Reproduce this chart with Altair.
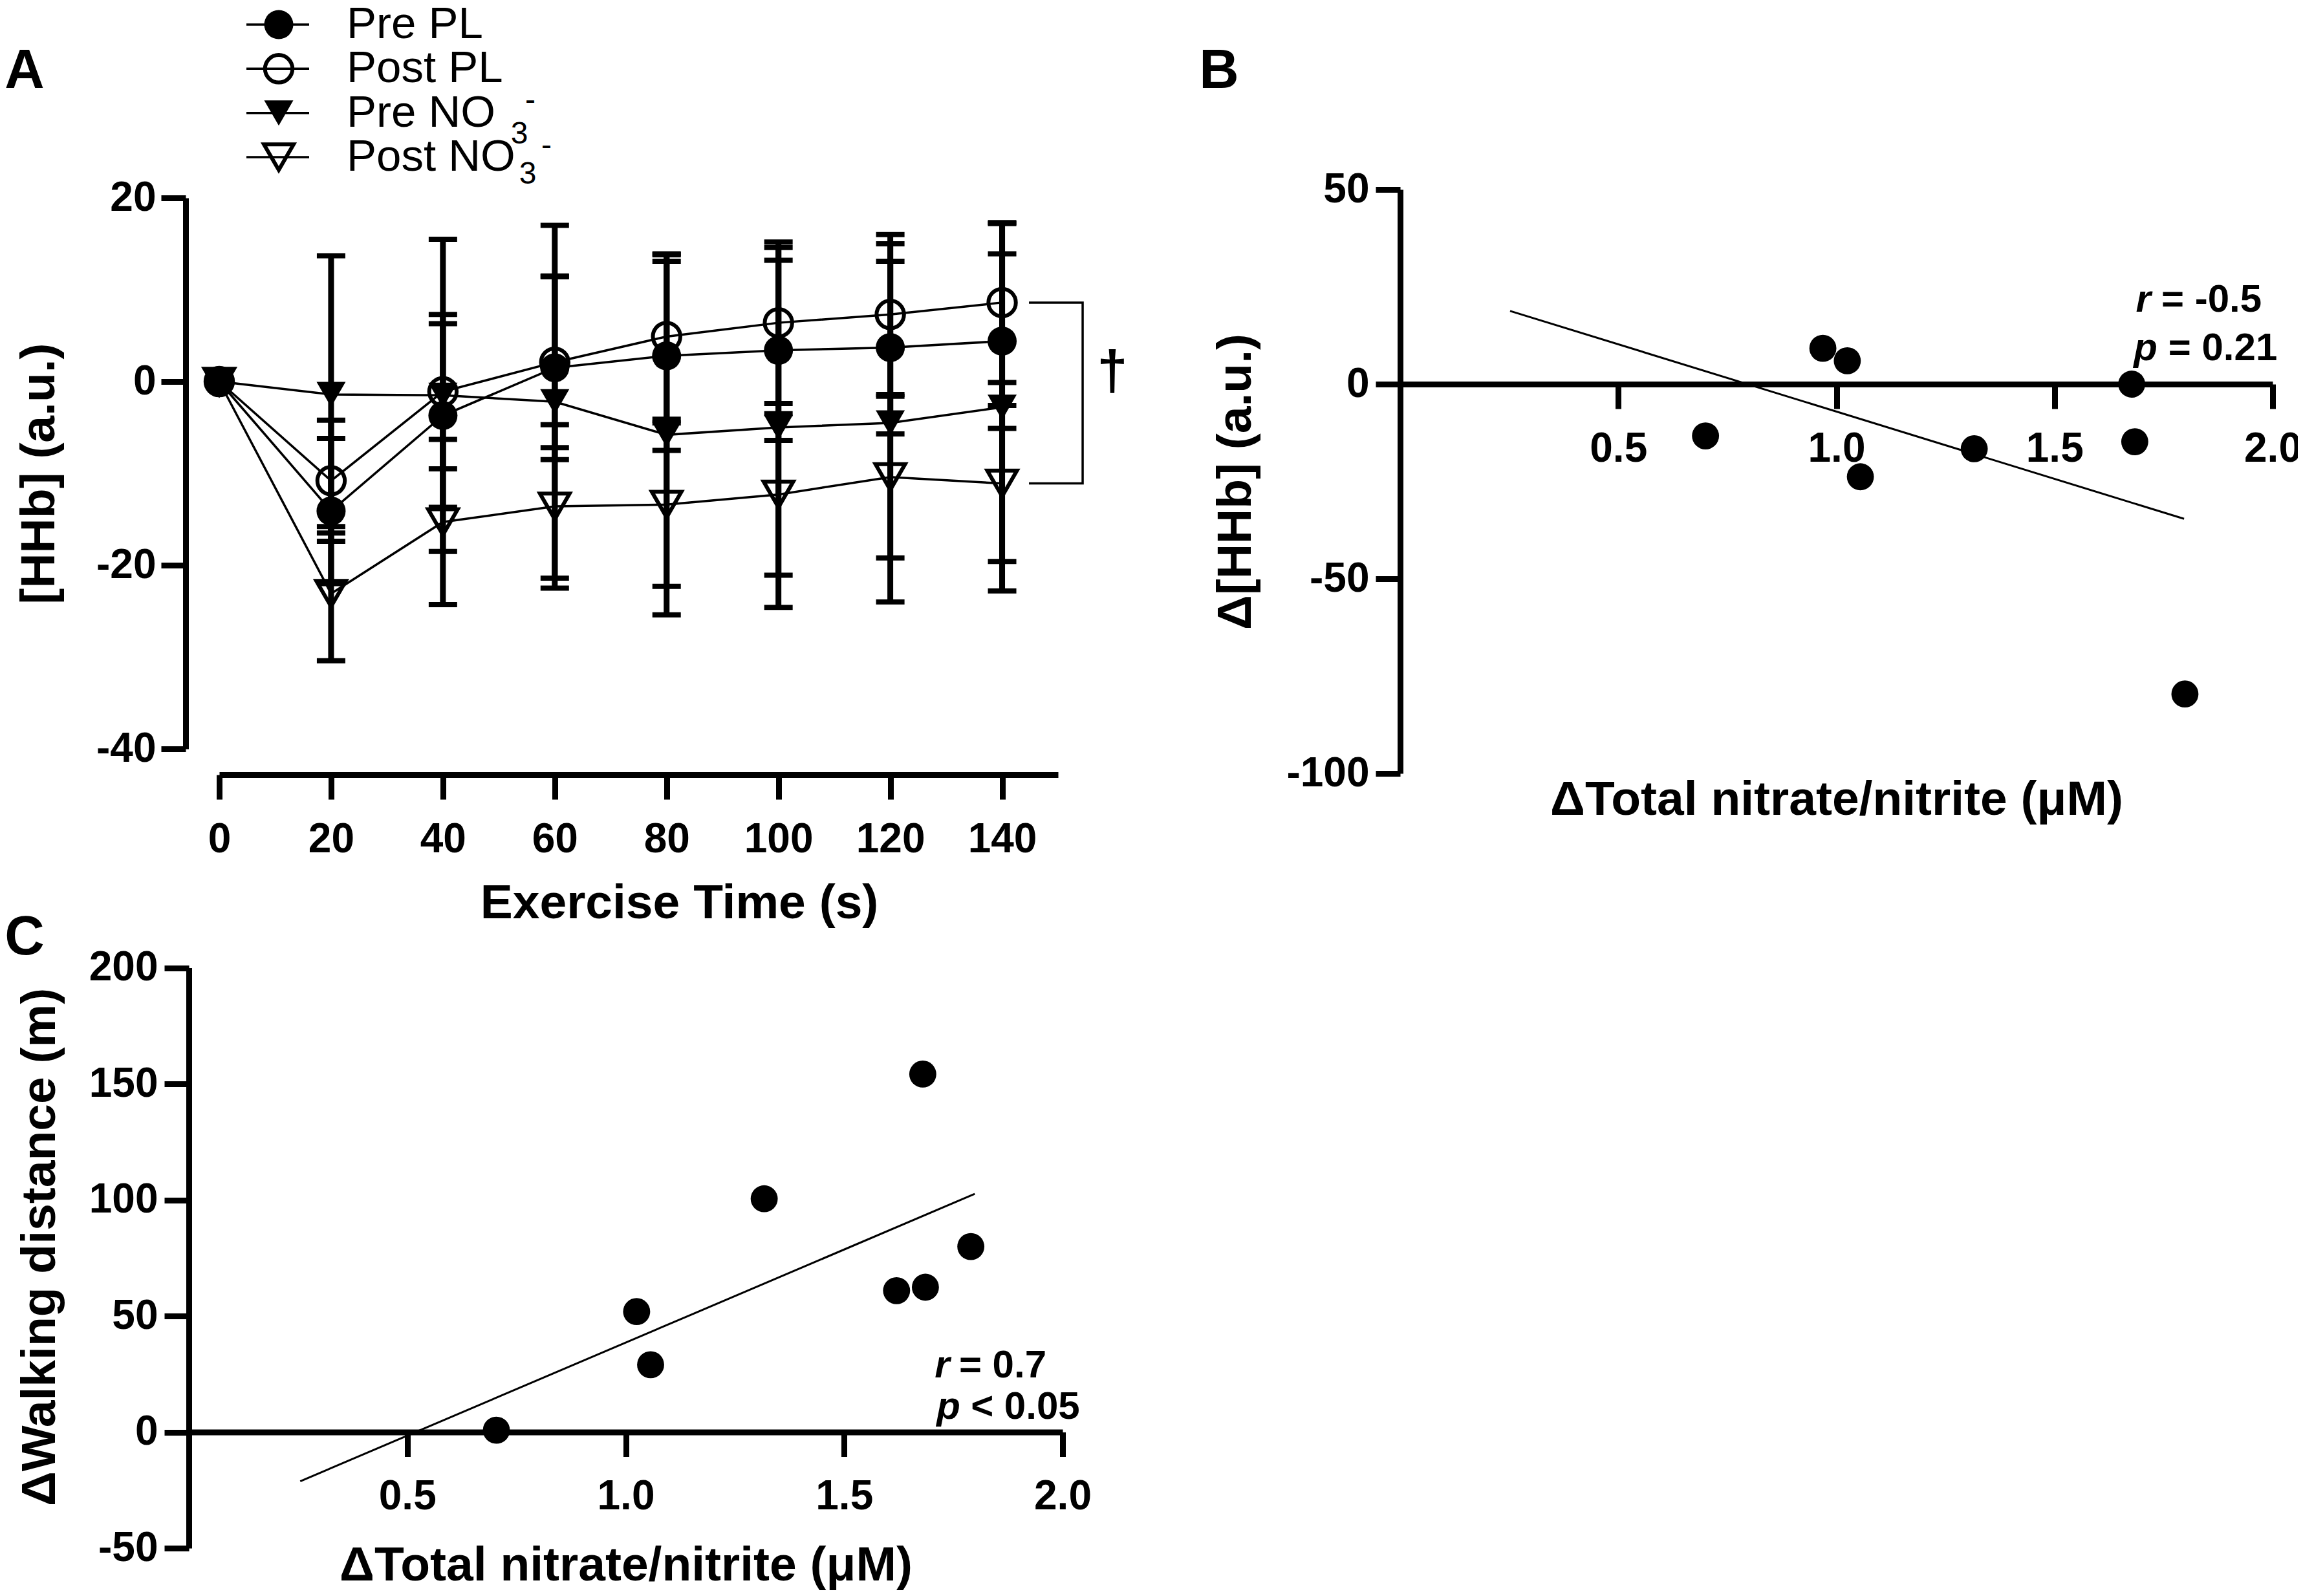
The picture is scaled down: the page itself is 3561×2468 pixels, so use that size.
import altair as alt
import pandas as pd

FONT = "Liberation Sans, Arial, Helvetica, sans-serif"
W, H = 3545, 2452

# ---------------- Panel A data ----------------
times = [0, 20, 40, 60, 80, 100, 120, 140]
series_names = ["Pre PL", "Post PL", "Pre NO3-", "Post NO3-"]
filled_series = ["Pre PL", "Pre NO3-"]
open_series = ["Post PL", "Post NO3-"]
pre_pl_mean = [0, -14.1, -3.7, 1.5, 2.8, 3.4, 3.7, 4.4]
pre_pl_sd = [0, 7.9, 10.0, 10.0, 10.3, 9.8, 9.4, 9.5]
post_pl_mean = [0, -10.8, -1.1, 2.1, 4.9, 6.4, 7.3, 8.6]
post_pl_sd = [0, 6.6, 8.4, 9.3, 9.0, 8.8, 8.7, 8.7]
pre_no3_mean = [0, -1.4, -1.5, -2.2, -5.8, -5.0, -4.5, -2.8]
pre_no3_sd = [0, 15.1, 17.0, 19.2, 19.6, 19.6, 19.5, 20.0]
post_no3_mean = [0, -23.1, -15.3, -13.6, -13.4, -12.3, -10.4, -11.1]
post_no3_sd = [0, 7.3, 9.0, 8.9, 8.9, 8.8, 8.8, 8.5]

bracket_x = [144.8, 154.4, 154.4, 144.8]
bracket_y = [8.6, 8.6, -11.1, -11.1]
dagger_x = [159.7]
dagger_y = [-0.85]

# legend pieces
legend_main = ["Pre PL", "Post PL", "Pre NO", "Post NO"]

# ---------------- Panel B data ----------------
b_x = [0.70, 0.969, 1.025, 1.055, 1.316, 1.677, 1.684, 1.799]
b_y = [-13.3, 9.2, 6.0, -23.8, -16.6, 0.0, -14.8, -79.6]
b_fit_x = [0.252, 1.797]
b_fit_y = [18.8, -34.6]
b_ann_letter = ["r", "p"]
b_ann_rest = ["= -0.5", "= 0.21"]
b_ann_letter_x = [1.721, 1.736]
b_ann_rest_x = [1.745, 1.761]
b_ann_y = [21.6, 9.1]

# ---------------- Panel C data ----------------
c_x = [0.704, 1.025, 1.057, 1.317, 1.62, 1.68, 1.686, 1.79]
c_y = [0.8, 51.9, 29.0, 100.5, 60.9, 154.2, 62.4, 79.9]
c_fit_x = [0.255, 1.799]
c_fit_y = [-21.2, 102.6]
c_ann_letter = ["r", "p"]
c_ann_rest = ["= 0.7", "< 0.05"]
c_ann_letter_x = [1.742, 1.766]
c_ann_rest_x = [1.763, 1.790]
c_ann_y = [28.6, 10.6]

# ---------------- tables ----------------
rows = []
for name, means, sds in zip(series_names,
                            [pre_pl_mean, post_pl_mean, pre_no3_mean, post_no3_mean],
                            [pre_pl_sd, post_pl_sd, pre_no3_sd, post_no3_sd]):
    for t, m, s in zip(times, means, sds):
        rows.append({"time": t, "series": name, "mean": m, "sd": s,
                     "low": m - s, "high": m + s})
dfA = pd.DataFrame(rows)
dfErr = dfA[dfA["sd"] > 0]
dfFilled = dfA[dfA["series"].isin(filled_series)]
dfOpen = dfA[dfA["series"].isin(open_series)]
dfBracket = pd.DataFrame({"x": bracket_x, "y": bracket_y, "o": list(range(len(bracket_x)))})
dfDagger = pd.DataFrame({"x": dagger_x, "y": dagger_y, "t": ["\u2020"]})

dfB = pd.DataFrame({"x": b_x, "y": b_y})
dfBfit = pd.DataFrame({"x": b_fit_x, "y": b_fit_y})
dfBann = pd.DataFrame({"lx": b_ann_letter_x, "rx": b_ann_rest_x, "y": b_ann_y,
                       "letter": b_ann_letter, "rest": b_ann_rest})
dfC = pd.DataFrame({"x": c_x, "y": c_y})
dfCfit = pd.DataFrame({"x": c_fit_x, "y": c_fit_y})
dfCann = pd.DataFrame({"lx": c_ann_letter_x, "rx": c_ann_rest_x, "y": c_ann_y,
                       "letter": c_ann_letter, "rest": c_ann_rest})
dfLeg = pd.DataFrame({"series": series_names, "label": legend_main})
dfLegFilled = dfLeg[dfLeg["series"].isin(filled_series)]
dfLegOpen = dfLeg[dfLeg["series"].isin(open_series)]

# ---------------- common styles ----------------
axis_common = dict(
    domainColor="black", domainWidth=9, tickColor="black", tickWidth=9, tickSize=38,
    labelFont=FONT, labelFontSize=64, labelFontWeight="bold", labelColor="black",
    titleFont=FONT, titleFontSize=75, titleFontWeight="bold", titleColor="black",
    grid=False, labelFlush=False, labelOverlap=False, labelBound=False,
)
INT_LABEL = "'' + datum.value"

shape_scale = alt.Scale(domain=series_names,
                        range=["circle", "circle", "triangle-down", "triangle-down"])
open_size_scale = alt.Scale(domain=open_series, range=[1800, 2100])
FILLED_SIZE = 2025

# ---------------- Panel A ----------------
xA = alt.Scale(domain=[0, 150], range=[331, 1628], nice=False, zero=False)
yA = alt.Scale(domain=[-40, 20], range=[1150, 298], nice=False, zero=False)
xAxisA = alt.Axis(orient="bottom", offset=1190 - H, values=times, labelExpr=INT_LABEL,
                  title="Exercise Time (s)", titleX=1042, titleY=198,
                  titleBaseline="middle", labelPadding=30, **axis_common)
yAxisA = alt.Axis(orient="left", offset=-279, values=[-40, -20, 0, 20], labelExpr=INT_LABEL,
                  title="[HHb] (a.u.)", titleX=-227, titleBaseline="middle",
                  labelPadding=8, **axis_common)
XA = alt.X("time:Q", scale=xA, axis=xAxisA)
YA = alt.Y("mean:Q", scale=yA, axis=yAxisA)

err_rule = alt.Chart(dfErr).mark_rule(color="black", strokeWidth=9).encode(
    x=XA, y=alt.Y("low:Q", scale=yA, axis=yAxisA), y2="high:Q")
cap_low = alt.Chart(dfErr).mark_tick(color="black", orient="horizontal", size=44,
                                     thickness=8, opacity=1).encode(
    x=XA, y=alt.Y("low:Q", scale=yA, axis=yAxisA))
cap_high = alt.Chart(dfErr).mark_tick(color="black", orient="horizontal", size=44,
                                      thickness=8, opacity=1).encode(
    x=XA, y=alt.Y("high:Q", scale=yA, axis=yAxisA))
linesA = alt.Chart(dfA).mark_line(color="black", strokeWidth=3.5).encode(
    x=XA, y=YA, detail="series:N")
ptsFilled = alt.Chart(dfFilled).mark_point(filled=True, color="black", opacity=1,
                                           size=FILLED_SIZE).encode(
    x=XA, y=YA,
    shape=alt.Shape("series:N", scale=shape_scale, legend=None),
)
ptsOpen = alt.Chart(dfOpen).mark_point(filled=False, color="black", strokeWidth=6,
                                       opacity=1).encode(
    x=XA, y=YA,
    shape=alt.Shape("series:N", scale=shape_scale, legend=None),
    size=alt.Size("series:N", scale=open_size_scale, legend=None),
)
bracket = alt.Chart(dfBracket).mark_line(color="black", strokeWidth=3.5).encode(
    x=alt.X("x:Q", scale=xA, axis=xAxisA), y=alt.Y("y:Q", scale=yA, axis=yAxisA),
    order="o:Q")
dagger = alt.Chart(dfDagger).mark_text(font=FONT, fontSize=85, fontWeight="bold",
                                       color="black", align="center",
                                       baseline="alphabetic").encode(
    x=alt.X("x:Q", scale=xA, axis=xAxisA), y=alt.Y("y:Q", scale=yA, axis=yAxisA),
    text="t:N")
panelA = alt.layer(err_rule, cap_low, cap_high, linesA, bracket, ptsFilled, ptsOpen, dagger)

# ---------------- Panel B ----------------
xB = alt.Scale(domain=[0, 2], range=[2157, 3506], nice=False, zero=False)
yB = alt.Scale(domain=[-100, 50], range=[1188, 285], nice=False, zero=False)
xAxisB = alt.Axis(orient="bottom", offset=586 - H, values=[0.5, 1, 1.5, 2], format=".1f",
                  title="\u0394Total nitrate/nitrite (\u03bcM)", titleY=642,
                  titleBaseline="middle", labelPadding=30, **axis_common)
yAxisB = alt.Axis(orient="left", offset=-2157, values=[-100, -50, 0, 50], labelExpr=INT_LABEL,
                  title="\u0394[HHb] (a.u.)", titleX=-255, titleBaseline="middle",
                  labelPadding=10, **axis_common)
XB = alt.X("x:Q", scale=xB, axis=xAxisB)
YB = alt.Y("y:Q", scale=yB, axis=yAxisB)
fitB = alt.Chart(dfBfit).mark_line(color="black", strokeWidth=3).encode(x=XB, y=YB)
ptsB = alt.Chart(dfB).mark_circle(size=1750, color="black", opacity=1).encode(x=XB, y=YB)
annB1 = alt.Chart(dfBann).mark_text(font=FONT, fontSize=60, fontWeight="bold",
                                    fontStyle="italic", align="right", baseline="middle",
                                    color="black").encode(
    x=alt.X("lx:Q", scale=xB, axis=xAxisB), y=YB, text="letter:N")
annB2 = alt.Chart(dfBann).mark_text(font=FONT, fontSize=60, fontWeight="bold",
                                    align="left", baseline="middle",
                                    color="black").encode(
    x=alt.X("rx:Q", scale=xB, axis=xAxisB), y=YB, text="rest:N")
panelB = alt.layer(fitB, ptsB, annB1, annB2)

# ---------------- Panel C ----------------
xC = alt.Scale(domain=[0, 2], range=[284, 1635], nice=False, zero=False)
yC = alt.Scale(domain=[-50, 200], range=[2386, 1488.5], nice=False, zero=False)
xAxisC = alt.Axis(orient="bottom", offset=2206.5 - H, values=[0.5, 1, 1.5, 2], format=".1f",
                  title="\u0394Total nitrate/nitrite (\u03bcM)", titleY=206,
                  titleBaseline="middle", labelPadding=30, **axis_common)
yAxisC = alt.Axis(orient="left", offset=-284, values=[-50, 0, 50, 100, 150, 200],
                  labelExpr=INT_LABEL, title="\u0394Walking distance (m)",
                  titleX=-231, titleY=1920, titleBaseline="middle",
                  labelPadding=10, **axis_common)
XC = alt.X("x:Q", scale=xC, axis=xAxisC)
YC = alt.Y("y:Q", scale=yC, axis=yAxisC)
fitC = alt.Chart(dfCfit).mark_line(color="black", strokeWidth=3).encode(x=XC, y=YC)
ptsC = alt.Chart(dfC).mark_circle(size=1750, color="black", opacity=1).encode(x=XC, y=YC)
annC1 = alt.Chart(dfCann).mark_text(font=FONT, fontSize=60, fontWeight="bold",
                                    fontStyle="italic", align="right", baseline="middle",
                                    color="black").encode(
    x=alt.X("lx:Q", scale=xC, axis=xAxisC), y=YC, text="letter:N")
annC2 = alt.Chart(dfCann).mark_text(font=FONT, fontSize=60, fontWeight="bold",
                                    align="left", baseline="middle",
                                    color="black").encode(
    x=alt.X("rx:Q", scale=xC, axis=xAxisC), y=YC, text="rest:N")
panelC = alt.layer(fitC, ptsC, annC1, annC2)

# ---------------- Legend (panel A) ----------------
LY = alt.Y("series:N", scale=alt.Scale(type="point", domain=series_names,
                                        range=[30, 235], padding=0), axis=None)
leg_rule = alt.Chart(dfLeg).mark_rule(color="black", strokeWidth=3.5).encode(
    y=LY, x=alt.value(373), x2=alt.value(470))
leg_filled = alt.Chart(dfLegFilled).mark_point(filled=True, color="black", opacity=1,
                                               size=FILLED_SIZE).encode(
    y=LY, x=alt.value(423),
    shape=alt.Shape("series:N", scale=shape_scale, legend=None),
)
leg_open = alt.Chart(dfLegOpen).mark_point(filled=False, color="black", strokeWidth=6,
                                           opacity=1).encode(
    y=LY, x=alt.value(423),
    shape=alt.Shape("series:N", scale=shape_scale, legend=None),
    size=alt.Size("series:N", scale=open_size_scale, legend=None),
)
leg_txt = alt.Chart(dfLeg).mark_text(font=FONT, fontSize=69, align="left",
                                     baseline="middle", color="black").encode(
    y=LY, x=alt.value(528), text="label:N")
dfPre = dfLeg[dfLeg["series"] == "Pre NO3-"]
dfPost = dfLeg[dfLeg["series"] == "Post NO3-"]
sub_pre = alt.Chart(dfPre).mark_text(text="3", font=FONT, fontSize=48, align="center",
                                     baseline="middle", color="black", dy=33).encode(
    y=LY, x=alt.value(795))
sup_pre = alt.Chart(dfPre).mark_text(text="-", font=FONT, fontSize=48, align="center",
                                     baseline="middle", color="black", dy=-19).encode(
    y=LY, x=alt.value(812))
sub_post = alt.Chart(dfPost).mark_text(text="3", font=FONT, fontSize=48, align="center",
                                       baseline="middle", color="black", dy=27).encode(
    y=LY, x=alt.value(808))
sup_post = alt.Chart(dfPost).mark_text(text="-", font=FONT, fontSize=48, align="center",
                                       baseline="middle", color="black", dy=-17).encode(
    y=LY, x=alt.value(837))
legend = alt.layer(leg_rule, leg_filled, leg_open, leg_txt,
                   sub_pre, sup_pre, sub_post, sup_post)

# ---------------- Panel letters ----------------
dfOne = pd.DataFrame({"k": [0]})
def letter(t, px, py):
    return alt.Chart(dfOne).mark_text(text=t, font=FONT, fontSize=85, fontWeight="bold",
                                      align="center", baseline="middle",
                                      color="black").encode(
        x=alt.value(px), y=alt.value(py))

letters = alt.layer(letter("A", 30, 102), letter("B", 1877, 102), letter("C", 30, 1442))

chart = alt.layer(panelA, panelB, panelC, legend, letters).resolve_scale(
    x="independent", y="independent", shape="independent", size="independent"
).properties(
    width=W, height=H, padding=0,
    autosize=alt.AutoSizeParams(type="none"),
    background="white",
).configure_view(stroke=None)

chart.save("out.html", embed_options={"renderer": "svg", "actions": False})
